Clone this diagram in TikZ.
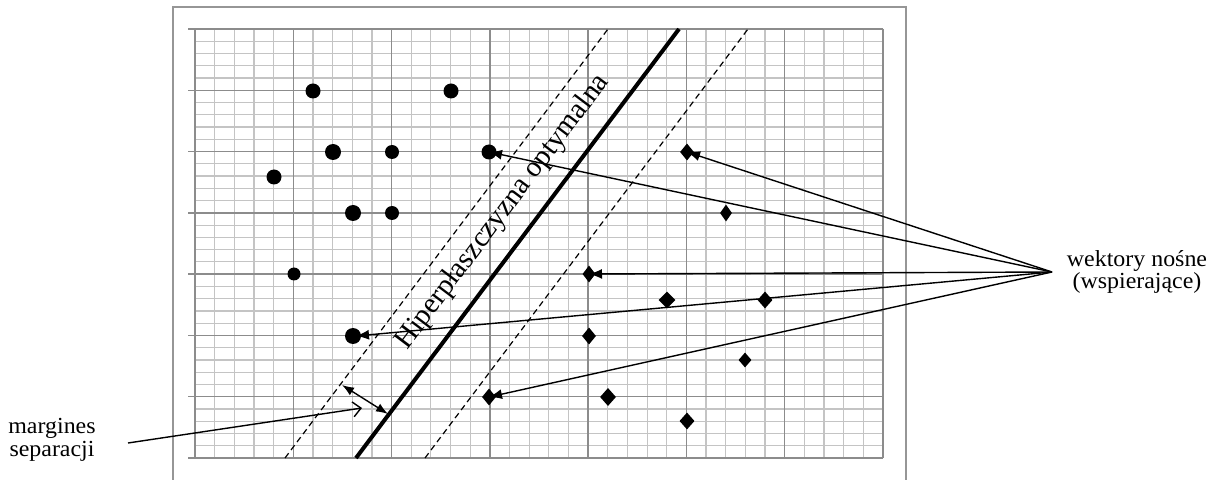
\documentclass[tikz,border=0pt]{standalone}
\usepackage{fontspec}
\setmainfont{Liberation Serif}
\usetikzlibrary{arrows.meta,shapes.geometric}
\definecolor{minorc}{RGB}{196,196,196}
\definecolor{majorc}{RGB}{140,140,140}
\definecolor{framec}{RGB}{150,150,150}
\begin{document}
\begin{tikzpicture}[x=1bp,y=-1bp,
  dot/.style={circle, fill=black, inner sep=0pt, minimum size=15bp},
  dia/.style={diamond, fill=black, inner sep=0pt, minimum width=14bp, minimum height=17bp},
  vec/.style={line width=1.4bp, -{Latex[length=13bp,width=10bp]}},
  margin/.style={line width=1.2bp, dash pattern=on 6bp off 4bp},
  hyper/.style={line width=4bp},
  lbl/.style={font=\fontsize{23bp}{22.5bp}\selectfont, align=center, xscale=1.04}]
\useasboundingbox (0,0) rectangle (1219,480);
% frame
\draw[framec, line width=1.2bp] (173,482) -- (173,7) -- (906,7) -- (906,482);
% minor grid
\foreach \i in {0,...,35} {
  \draw[minorc, line width=1.2bp] ({195+\i*19.657},29) -- ({195+\i*19.657},458);
  \draw[minorc, line width=1.2bp] (195,{29+\i*12.257}) -- (883,{29+\i*12.257});
}
% major grid
\foreach \i in {0,...,7} {
  \draw[majorc, line width=1.3bp] ({195+\i*98.286},29) -- ({195+\i*98.286},458);
  \draw[majorc, line width=1.3bp] (188,{29+\i*61.286}) -- (883,{29+\i*61.286});
}
% separating lines
\coordinate (hb) at (356,458); \coordinate (ht) at (679,29);
\coordinate (lb) at (285,458); \coordinate (lt) at (608,29);
\coordinate (rb) at (425,458); \coordinate (rt) at (748,29);
\draw[margin] (lb) -- (lt);
\draw[margin] (rb) -- (rt);
\draw[hyper] (hb) -- (ht);
\node[font=\fontsize{29bp}{30bp}\selectfont, rotate=53] (hyplab) at (503,212) {Hiperpłaszczyzna optymalna};
% class 1 (dots)
\node[dot] (a1) at (313,91) {};
\node[dot] (a2) at (451,91) {};
\node[dot, minimum size=16bp] (a3) at (333,152) {};
\node[dot, minimum size=14bp] (a4) at (392,152) {};
\node[dot] (a5) at (274,177) {};
\node[dot, minimum size=16bp] (a6) at (353,213) {};
\node[dot, minimum size=14bp] (a7) at (392,213) {};
\node[dot, minimum size=13bp] (a8) at (294,274) {};
\node[dot, minimum size=16bp] (s1) at (353,336) {};
\node[dot] (s2) at (489,152) {};
% class 2 (diamonds)
\node[dia] (s3) at (687,152) {};
\node[dia, minimum width=12bp] (b1) at (726,213) {};
\node[dia, minimum width=13bp] (s4) at (589,274) {};
\node[dia, minimum width=17bp] (b2) at (667,300) {};
\node[dia, minimum width=15bp] (b3) at (765,300) {};
\node[dia] (b4) at (589,336) {};
\node[dia] (s5) at (489,397) {};
\node[dia, minimum width=16bp, minimum height=18bp] (b5) at (608,397) {};
\node[dia, minimum width=15bp] (b6) at (687,421) {};
\node[dia, minimum width=13bp, minimum height=15bp] (b7) at (745,360) {};
% support vector label and arrows
\coordinate (hub) at (1052,272);
\node[lbl] (wlab) at (1137,272) {wektory nośne\\(wspierające)};
\draw[vec] (hub) -- (s2.center);
\draw[vec] (hub) -- (s3.center);
\draw[vec] (hub) -- (s4.center);
\draw[vec] (hub) -- ([xshift=3bp]s1.center);
\draw[vec] (hub) -- (s5.center);
% margin
\coordinate (m1) at (342,385);
\coordinate (m2) at (388,414);
\draw[line width=1.4bp, {Latex[length=12bp,width=9bp]}-{Latex[length=12bp,width=9bp]}] (m1) -- (m2);
\node[lbl] (mlab) at (52,440) {margines\\separacji};
\coordinate (mend) at (128,443);
\coordinate (mtip) at (362,408);
\draw[line width=1.4bp, -{Straight Barb[length=8bp,width=15bp]}] (mend) -- (mtip);
\end{tikzpicture}
\end{document}
